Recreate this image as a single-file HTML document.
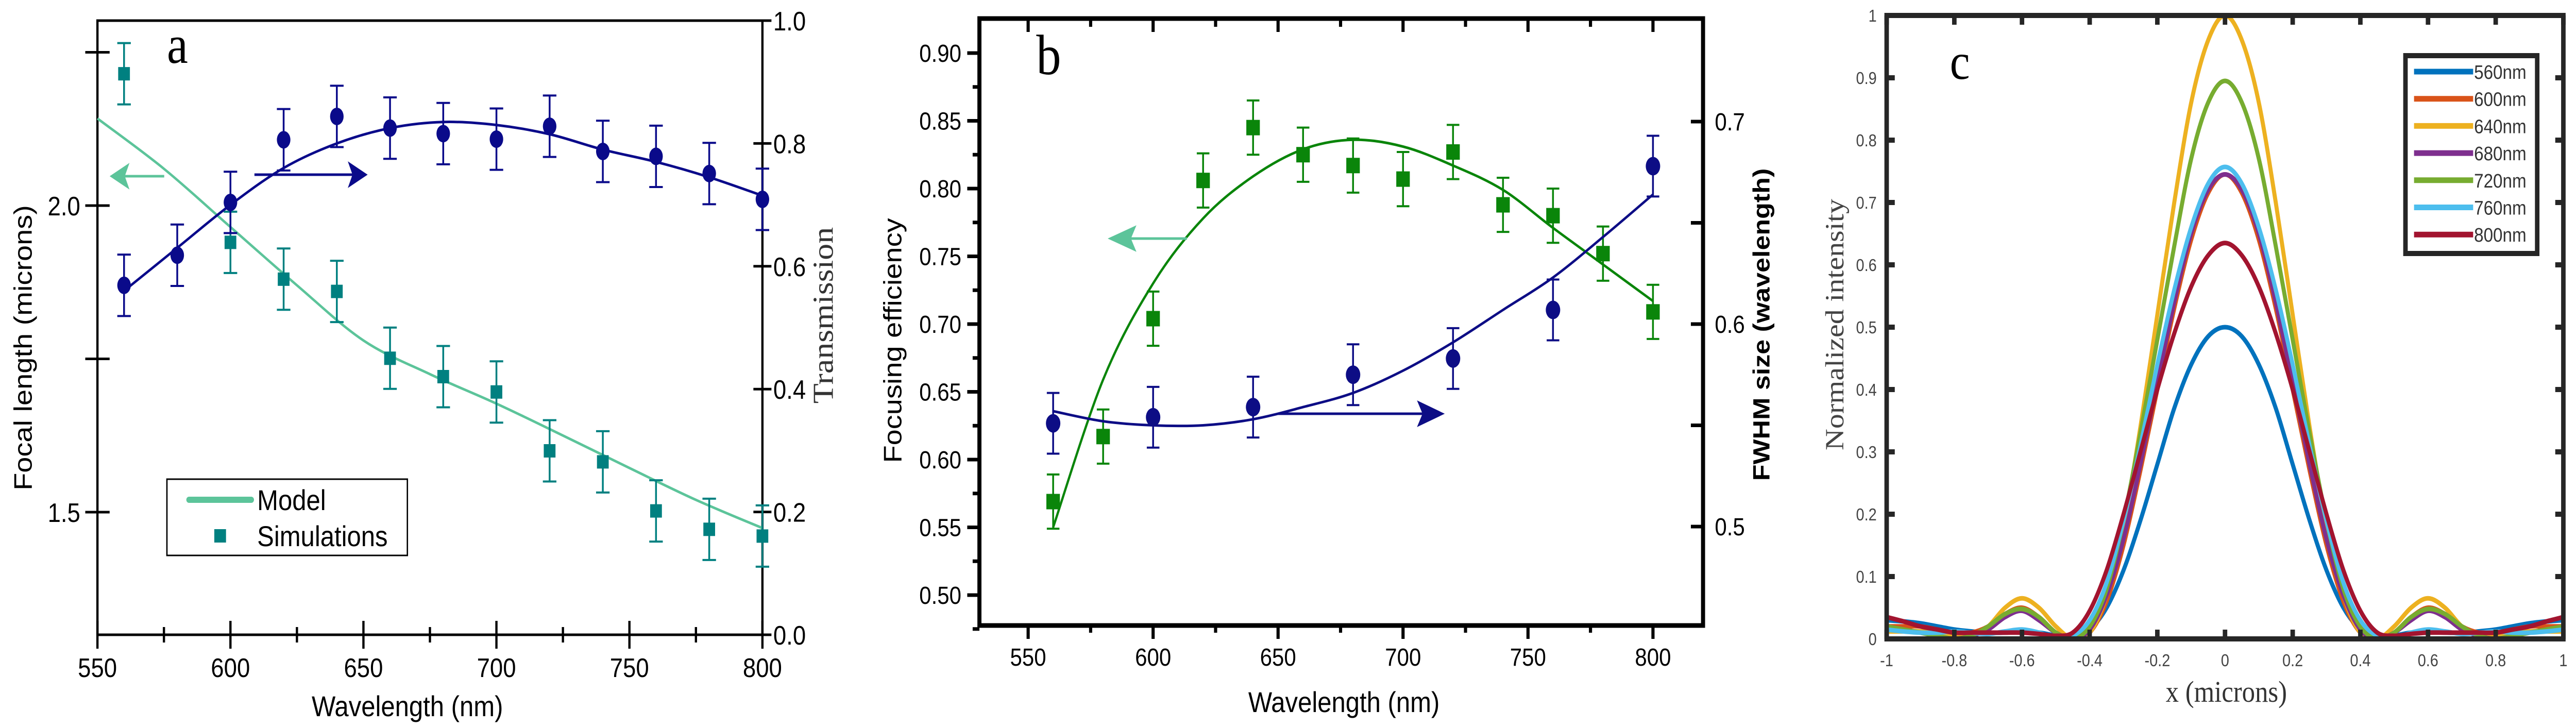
<!DOCTYPE html>
<html><head><meta charset="utf-8"><style>
html,body{margin:0;padding:0;background:#fff;width:100%;height:100%;overflow:hidden;}
svg{display:block;width:100vw;height:100vh;}
</style></head><body>
<svg id="fig" xmlns="http://www.w3.org/2000/svg" viewBox="0 0 5710 1411" preserveAspectRatio="none"></svg>
<script>
// ---------- Panel a data ----------
const aWl = [560,580,600,620,640,660,680,700,720,740,760,780,800];
const aTrans = [0.569,0.618,0.704,0.806,0.844,0.825,0.816,0.807,0.828,0.787,0.779,0.751,0.709];
const aTransErr = [0.05,0.05,0.05,0.05,0.05,0.05,0.05,0.05,0.05,0.05,0.05,0.05,0.05];
const aTransFit = [0.56,0.63,0.70,0.76,0.80,0.825,0.835,0.83,0.815,0.79,0.77,0.745,0.715];
const aSimWl = [560,600,620,640,660,680,700,720,740,760,780,800];
const aSimFocal = [2.215,1.940,1.880,1.860,1.751,1.721,1.696,1.600,1.582,1.502,1.472,1.461];
const aSimErr = [0.05,0.05,0.05,0.05,0.05,0.05,0.05,0.05,0.05,0.05,0.05,0.05];
const aModelWl = [550,575,600,625,650,675,700,725,750,775,800];
const aModel = [2.142,2.06,1.965,1.87,1.78,1.725,1.677,1.625,1.572,1.52,1.474];
const aXTicks = [550,600,650,700,750,800];
const aLeftTicks = ["1.5","2.0"];
const aRightTicks = ["0.0","0.2","0.4","0.6","0.8","1.0"];
// ---------- Panel b data ----------
const bWl = [560,580,600,620,640,660,680,700,720,740,760,780,800];
const bEff = [0.569,0.617,0.704,0.806,0.845,0.825,0.817,0.807,0.827,0.788,0.780,0.752,0.709];
const bEffErr = [0.02,0.02,0.02,0.02,0.02,0.02,0.02,0.02,0.02,0.02,0.02,0.02,0.02];
const bEffFit = [0.55,0.659,0.730,0.778,0.809,0.829,0.836,0.831,0.817,0.799,0.771,0.744,0.717];
const bFwhmWl = [560,600,640,680,720,760,800];
const bFwhm = [0.551,0.554,0.559,0.575,0.583,0.607,0.678];
const bFwhmErr = [0.015,0.015,0.015,0.015,0.015,0.015,0.015];
const bFwhmFit = [0.557,0.552,0.550,0.550,0.553,0.559,0.566,0.577,0.591,0.607,0.623,0.643,0.664];
const bXTicks = [550,600,650,700,750,800];
const bLeftTicks = ["0.50","0.55","0.60","0.65","0.70","0.75","0.80","0.85","0.90"];
const bRightTicks = ["0.5","0.6","0.7"];
// ---------- Panel c data (half profiles, x = 0..1 step 0.05, mirrored) ----------
const cHalfX = [0,0.05,0.1,0.15,0.2,0.25,0.3,0.35,0.4,0.45,0.5,0.55,0.6,0.65,0.7,0.75,0.8,0.85,0.9,0.95,1.0];
const cLabels = ["560nm","600nm","640nm","680nm","720nm","760nm","800nm"];
const c560 = [0.50,0.485,0.44,0.37,0.28,0.19,0.11,0.05,0.015,0.0,0.005,0.01,0.012,0.01,0.01,0.012,0.015,0.02,0.025,0.028,0.03];
const c600 = [0.745,0.715,0.64,0.53,0.40,0.27,0.15,0.06,0.01,0.0,0.01,0.035,0.05,0.04,0.02,0.01,0.01,0.015,0.02,0.02,0.02];
const c640 = [1.0,0.96,0.86,0.70,0.52,0.34,0.18,0.07,0.01,0.0,0.02,0.05,0.065,0.05,0.02,0.005,0.005,0.01,0.012,0.012,0.012];
const c680 = [0.745,0.72,0.65,0.54,0.41,0.28,0.16,0.07,0.015,0.0,0.01,0.03,0.045,0.035,0.015,0.005,0.0,0.005,0.01,0.015,0.02];
const c720 = [0.895,0.86,0.77,0.63,0.48,0.33,0.19,0.08,0.02,0.0,0.01,0.035,0.048,0.04,0.02,0.005,0.0,0.005,0.01,0.015,0.02];
const c760 = [0.757,0.73,0.66,0.56,0.44,0.31,0.19,0.09,0.03,0.005,0.0,0.01,0.015,0.012,0.008,0.01,0.012,0.01,0.01,0.012,0.015];
const c800 = [0.635,0.615,0.565,0.49,0.40,0.30,0.20,0.11,0.045,0.01,0.005,0.008,0.01,0.01,0.01,0.01,0.01,0.015,0.02,0.028,0.035];
const cXTicks = ["-1","-0.8","-0.6","-0.4","-0.2","0","0.2","0.4","0.6","0.8","1"];
const cYTicks = ["0","0.1","0.2","0.3","0.4","0.5","0.6","0.7","0.8","0.9","1"];

const NS = "http://www.w3.org/2000/svg";
const svg = document.getElementById('fig');
function mk(tag, attrs, parent){
  const e = document.createElementNS(NS, tag);
  for (const k in attrs) e.setAttribute(k, attrs[k]);
  (parent||svg).appendChild(e);
  return e;
}
function smooth(pts){
  let d = "M" + pts[0][0].toFixed(1) + "," + pts[0][1].toFixed(1);
  for (let i=0;i<pts.length-1;i++){
    const p0=pts[i-1]||pts[i], p1=pts[i], p2=pts[i+1], p3=pts[i+2]||pts[i+1];
    const c1x=p1[0]+(p2[0]-p0[0])/6, c1y=p1[1]+(p2[1]-p0[1])/6;
    const c2x=p2[0]-(p3[0]-p1[0])/6, c2y=p2[1]-(p3[1]-p1[1])/6;
    d += " C"+c1x.toFixed(1)+","+c1y.toFixed(1)+" "+c2x.toFixed(1)+","+c2y.toFixed(1)+" "+p2[0].toFixed(1)+","+p2[1].toFixed(1);
  }
  return d;
}
const SANS = '"Liberation Sans", Arial, sans-serif';
const SERIF = '"Liberation Serif", serif';

// ================= PANEL A =================
const gA = mk('g', {});


const aL=216, aR=1690, aT=40, aB=1232;
const axA = w => aL + (w-550)*(aR-aL)/250;
const ayL = v => 994 - (v-1.5)*(994-399)/0.5;
const ayR = v => aB - v*(aB-aT);
let e;
e = mk('rect', {x:aL,y:aT,width:aR-aL,height:aB-aT,fill:'none',stroke:'#000','stroke-width':5}, gA);


for (let w=550; w<=800; w+=25){
  const major = (w%50===0);
  const L = major?27:15;
  e = mk('line', {x1:axA(w),x2:axA(w),y1:aB-L,y2:aB+L,stroke:'#000','stroke-width':5}, gA);
  
  
}
aXTicks.forEach(t=>{
  e = mk('text', {x:axA(t),y:1314,'font-family':SANS,'font-size':52,'text-anchor':'middle'}, gA);
  e.textContent = t;
  
  
});
[1.5,1.75,2.0,2.25].forEach(v=>{
  e = mk('line', {x1:aL-27,x2:aL+27,y1:ayL(v),y2:ayL(v),stroke:'#000','stroke-width':5}, gA);
  
  
});
aLeftTicks.forEach(t=>{
  e = mk('text', {x:178,y:ayL(parseFloat(t))+19,'font-family':SANS,'font-size':52,'text-anchor':'end'}, gA);
  e.textContent = t;
  
  
});
aRightTicks.forEach(t=>{
  const v=parseFloat(t);
  e = mk('line', {x1:aR-20,x2:aR+20,y1:ayR(v),y2:ayR(v),stroke:'#000','stroke-width':5}, gA);
  
  
  e = mk('text', {x:1714,y:ayR(v)+19,'font-family':SANS,'font-size':52}, gA);
  e.textContent = t;
  
  
});
e = mk('text', {x:0,y:0,'font-family':SANS,'font-size':56,'text-anchor':'middle',transform:'translate(70,675) rotate(-90)'}, gA);
e.textContent = 'Focal length (microns)';


e = mk('text', {x:0,y:0,'font-family':SERIF,'font-size':64,'text-anchor':'middle','fill':'#333',transform:'translate(1846,612) rotate(-90)'}, gA);
e.textContent = 'Transmission';


e = mk('text', {x:903,y:1390,'font-family':SANS,'font-size':56,'text-anchor':'middle'}, gA);
e.textContent = 'Wavelength (nm)';


e = mk('text', {x:370,y:122,'font-family':SERIF,'font-size':105}, gA);
e.textContent = 'a';


e = mk('path', {d:smooth(aModelWl.map((w,i)=>[axA(w),ayL(aModel[i])])),fill:'none',stroke:'#5cc49a','stroke-width':5}, gA);


aSimWl.forEach((w,i)=>{
  const x=axA(w), y=ayL(aSimFocal[i]), y1=ayL(aSimFocal[i]+aSimErr[i]), y2=ayL(aSimFocal[i]-aSimErr[i]);
  e = mk('path', {d:`M${x},${y1}V${y2}M${x-15},${y1}H${x+15}M${x-15},${y2}H${x+15}`,stroke:'#008080','stroke-width':4,fill:'none'}, gA);
  
  
  e = mk('rect', {x:x-13,y:y-13,width:26,height:26,fill:'#008080'}, gA);
  
  
});
e = mk('path', {d:smooth(aWl.map((w,i)=>[axA(w),ayR(aTransFit[i])])),fill:'none',stroke:'#0a0a8a','stroke-width':5}, gA);


aWl.forEach((w,i)=>{
  const x=axA(w), y=ayR(aTrans[i]), y1=ayR(aTrans[i]+aTransErr[i]), y2=ayR(aTrans[i]-aTransErr[i]);
  e = mk('path', {d:`M${x},${y1}V${y2}M${x-15},${y1}H${x+15}M${x-15},${y2}H${x+15}`,stroke:'#0a0a8a','stroke-width':4,fill:'none'}, gA);
  
  
  e = mk('ellipse', {cx:x,cy:y,rx:15,ry:17,fill:'#0a0a8a'}, gA);
  
  
});
e = mk('path', {d:'M364,342H268 M248,342 L282,322 L274,342 L282,362 Z',stroke:'#5cc49a','stroke-width':5,fill:'#5cc49a'}, gA);


e = mk('path', {d:'M564,339H790 M810,339 L776,319 L784,339 L776,359 Z',stroke:'#0a0a8a','stroke-width':5,fill:'#0a0a8a'}, gA);


const lgA = mk('g', {}, gA);


e = mk('rect', {x:370,y:930,width:533,height:148,fill:'#fff',stroke:'#000','stroke-width':3}, lgA);


e = mk('line', {x1:419,x2:557,y1:970,y2:970,stroke:'#5cc49a','stroke-width':12,'stroke-linecap':'round'}, lgA);


e = mk('text', {x:570,y:990,'font-family':SANS,'font-size':56}, lgA);
e.textContent = 'Model';


e = mk('rect', {x:475,y:1027,width:26,height:26,fill:'#008080'}, lgA);


e = mk('text', {x:570,y:1060,'font-family':SANS,'font-size':56}, lgA);
e.textContent = 'Simulations';



// ================= PANEL B =================
const gB = mk('g', {});


const bL=2171, bR=3775, bT=36, bB=1214;
const bx = w => 2279 + (w-550)*(3664-2279)/250;
const byL = v => 103 + (0.90-v)*(1155-103)/0.40;
const byR = v => 1022 - (v-0.5)*(1022-236)/0.2;
e = mk('rect', {x:bL,y:bT,width:bR-bL,height:bB-bT,fill:'none',stroke:'#000','stroke-width':9}, gB);


for (let w=550; w<=800; w+=25){
  const major=(w%50===0);
  e = mk('line', {x1:bx(w),x2:bx(w),y1:bB,y2:bB+(major?26:14),stroke:'#000','stroke-width':7}, gB);
  
  
  e = mk('line', {x1:bx(w),x2:bx(w),y1:bT,y2:bT+(major?26:16),stroke:'#000','stroke-width':7}, gB);
  
  
}
bXTicks.forEach(t=>{
  e = mk('text', {x:bx(t),y:1292,'font-family':SANS,'font-size':48,'text-anchor':'middle'}, gB);
  e.textContent = t;
  
  
});
for (let k=0;k<=17;k++){
  const v = 0.475 + k*0.025;
  const major = (k%2===1);
  e = mk('line', {x1:bL-(major?27:15),x2:bL,y1:byL(v),y2:byL(v),stroke:'#000','stroke-width':7}, gB);
  
  
}
bLeftTicks.forEach(t=>{
  e = mk('text', {x:2131,y:byL(parseFloat(t))+17,'font-family':SANS,'font-size':48,'text-anchor':'end'}, gB);
  e.textContent = t;
  
  
});
for (let v=0.5; v<=0.7001; v+=0.05){
  e = mk('line', {x1:bR-27,x2:bR,y1:byR(v),y2:byR(v),stroke:'#000','stroke-width':7}, gB);
  
  
}
bRightTicks.forEach(t=>{
  e = mk('text', {x:3801,y:byR(parseFloat(t))+17,'font-family':SANS,'font-size':48}, gB);
  e.textContent = t;
  
  
});
e = mk('text', {x:0,y:0,'font-family':SANS,'font-size':56,'text-anchor':'middle',transform:'translate(1998,661) rotate(-90)'}, gB);
e.textContent = 'Focusing efficiency';


e = mk('text', {x:0,y:0,'font-family':SANS,'font-size':52,'font-weight':'bold','text-anchor':'middle',transform:'translate(3922,630) rotate(-90)'}, gB);
e.textContent = 'FWHM size (wavelength)';


e = mk('text', {x:2979,y:1382,'font-family':SANS,'font-size':56,'text-anchor':'middle'}, gB);
e.textContent = 'Wavelength (nm)';


e = mk('text', {x:2297,y:144,'font-family':SERIF,'font-size':110}, gB);
e.textContent = 'b';


e = mk('path', {d:smooth(bWl.map((w,i)=>[bx(w),byL(bEffFit[i])])),fill:'none',stroke:'#0a850a','stroke-width':5}, gB);


bWl.forEach((w,i)=>{
  const x=bx(w), y=byL(bEff[i]), y1=byL(bEff[i]+bEffErr[i]), y2=byL(bEff[i]-bEffErr[i]);
  e = mk('path', {d:`M${x},${y1}V${y2}M${x-14},${y1}H${x+14}M${x-14},${y2}H${x+14}`,stroke:'#0a850a','stroke-width':4,fill:'none'}, gB);
  
  
  e = mk('rect', {x:x-15,y:y-15,width:30,height:30,fill:'#0a850a'}, gB);
  
  
});
e = mk('path', {d:smooth(bWl.map((w,i)=>[bx(w),byR(bFwhmFit[i])])),fill:'none',stroke:'#0d0d85','stroke-width':5}, gB);


bFwhmWl.forEach((w,i)=>{
  const x=bx(w), y=byR(bFwhm[i]), y1=byR(bFwhm[i]+bFwhmErr[i]), y2=byR(bFwhm[i]-bFwhmErr[i]);
  e = mk('path', {d:`M${x},${y1}V${y2}M${x-14},${y1}H${x+14}M${x-14},${y2}H${x+14}`,stroke:'#0d0d85','stroke-width':4,fill:'none'}, gB);
  
  
  e = mk('ellipse', {cx:x,cy:y,rx:16,ry:18,fill:'#0d0d85'}, gB);
  
  
});
e = mk('path', {d:'M2631,463H2484 M2462,463 L2514,442 L2504,463 L2514,484 Z',stroke:'#5cc49a','stroke-width':5,fill:'#5cc49a'}, gB);


e = mk('path', {d:'M2833,803H3174 M3196,803 L3146,782 L3156,803 L3146,824 Z',stroke:'#0d0d85','stroke-width':5,fill:'#0d0d85'}, gB);



// ================= PANEL C =================
const gC = mk('g', {});


const cL=4182, cR=5682, cT=30, cB=1240;
const cx = v => cL + (v+1)*(cR-cL)/2;
const cy = v => cB - v*(cB-cT);
const cSeries = [c560,c600,c640,c680,c720,c760,c800];
const cColors = ['#0072BD','#D95319','#EDB120','#7E2F8E','#77AC30','#4DBEEE','#A2142F'];
const clip = mk('clipPath', {id:'clipc'}, gC);
mk('rect', {x:cL,y:cT-10,width:cR-cL,height:cB-cT+10}, clip);
cSeries.forEach((s,k)=>{
  const pts=[];
  for (let i=cHalfX.length-1;i>0;i--) pts.push([cx(-cHalfX[i]), cy(s[i])]);
  for (let i=0;i<cHalfX.length;i++) pts.push([cx(cHalfX[i]), cy(s[i])]);
  e = mk('path', {d:smooth(pts),fill:'none',stroke:cColors[k],'stroke-width':9,'clip-path':'url(#clipc)'}, gC);
  
  
});
e = mk('rect', {x:cL,y:cT,width:cR-cL,height:cB-cT,fill:'none',stroke:'#262626','stroke-width':10}, gC);


cXTicks.forEach(t=>{
  const v=parseFloat(t);
  e = mk('path', {d:`M${cx(v)},${cB}v-18M${cx(v)},${cT}v18`,stroke:'#262626','stroke-width':10}, gC);
  
  
  e = mk('text', {x:cx(v),y:1293,'font-family':SANS,'font-size':33,'text-anchor':'middle','fill':'#444'}, gC);
  e.textContent = t;
  
  
});
cYTicks.forEach(t=>{
  const v=parseFloat(t);
  e = mk('path', {d:`M${cL},${cy(v)}h18M${cR},${cy(v)}h-18`,stroke:'#262626','stroke-width':10}, gC);
  
  
  e = mk('text', {x:4160,y:cy(v)+12,'font-family':SANS,'font-size':33,'text-anchor':'end','fill':'#444'}, gC);
  e.textContent = t;
  
  
});
e = mk('text', {x:0,y:0,'font-family':SERIF,'font-size':58,'text-anchor':'middle','fill':'#444',transform:'translate(4086,630) rotate(-90)'}, gC);
e.textContent = 'Normalized intensity';


e = mk('text', {x:4935,y:1362,'font-family':SERIF,'font-size':58,'text-anchor':'middle','fill':'#333'}, gC);
e.textContent = 'x (microns)';


e = mk('text', {x:4322,y:153,'font-family':SERIF,'font-size':100}, gC);
e.textContent = 'c';


const lgC = mk('g', {}, gC);


e = mk('rect', {x:5332,y:108,width:292,height:384,fill:'#fff',stroke:'#262626','stroke-width':10}, lgC);


cLabels.forEach((lab,k)=>{
  const y = 139 + k*52.7;
  e = mk('line', {x1:5351,x2:5482,y1:y,y2:y,stroke:cColors[k],'stroke-width':11}, lgC);
  
  
  e = mk('text', {x:5484,y:y+14,'font-family':SANS,'font-size':38,'fill':'#333',textLength:116,lengthAdjust:'spacingAndGlyphs'}, lgC);
  e.textContent = lab;
  
  
});
</script>
</body></html>
